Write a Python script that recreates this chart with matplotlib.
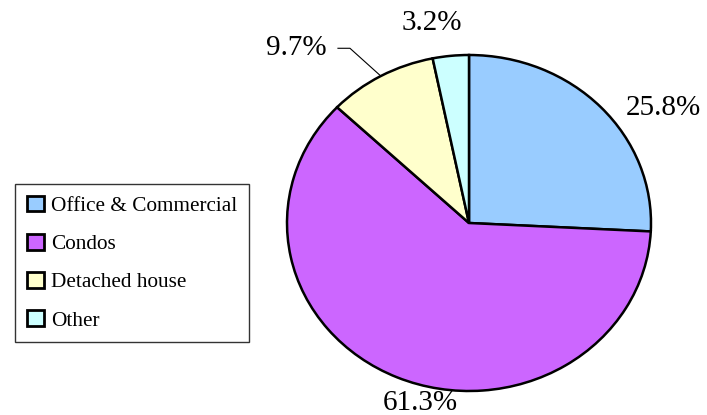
import numpy as np
import matplotlib
matplotlib.use("Agg")
from matplotlib import pyplot as plt

# data
categories = ["Office & Commercial", "Condos", "Detached house", "Other"]
shares = [25.8, 61.3, 9.7, 3.2]
share_labels = ["25.8%", "61.3%", "9.7%", "3.2%"]
colors = ["#99CCFF", "#CC66FF", "#FFFFCC", "#CCFFFF"]

plt.rcParams["font.family"] = ["Liberation Serif", "DejaVu Serif"]

W, H = 707, 415
fig = plt.figure(figsize=(W / 100, H / 100), dpi=100)

# pie is drawn slightly elliptical, like the original
cx, cy, rx, ry = 469, 223, 182, 168
ax = fig.add_axes([(cx - rx) / W, (H - cy - ry) / H, 2 * rx / W, 2 * ry / H])
wedges, _ = ax.pie(
    shares,
    colors=colors,
    startangle=90,
    counterclock=False,
    radius=1,
    wedgeprops=dict(edgecolor="black", linewidth=1.8),
)
ax.set_aspect("auto")
ax.set_xlim(-1, 1)
ax.set_ylim(-1, 1)
ax.axis("off")

# label positions (data units of the unit-radius pie)
label_pos = [(1.066, 0.685), (-0.269, -1.071), (-0.95, 1.04), (-0.203, 1.19)]
for w, txt, (lx, ly) in zip(wedges, share_labels, label_pos):
    ax.text(lx, ly, txt, ha="center", va="center", fontsize=21, clip_on=False)

# leader line for the small detached-house slice
w = wedges[2]
mid = np.deg2rad((w.theta1 + w.theta2) / 2)
ax.plot([-0.72, -0.654, np.cos(mid)], [1.04, 1.04, np.sin(mid)],
        color="black", linewidth=0.8, clip_on=False)

leg = fig.legend(
    wedges, categories,
    loc="upper left",
    bbox_to_anchor=(15 / W, 1 - 184 / H),
    borderaxespad=0,
    fontsize=15.3,
    frameon=True,
    fancybox=False,
    edgecolor="black",
    handlelength=0.8,
    handleheight=0.75,
    handletextpad=0.35,
    borderpad=0.55,
    labelspacing=0.85,
)
leg.get_frame().set_linewidth(1.0)
for h in leg.legend_handles:
    h.set_linewidth(2.0)

fig.savefig("out.png", dpi=100)
